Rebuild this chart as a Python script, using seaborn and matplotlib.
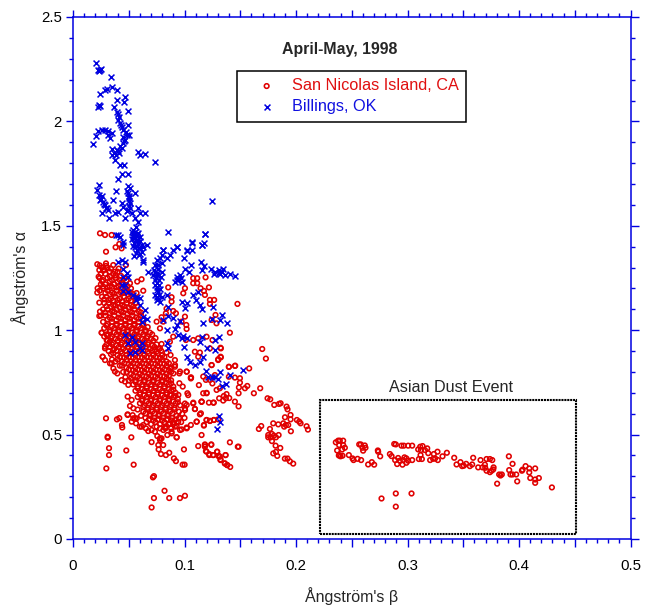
import matplotlib
matplotlib.use('Agg')
import matplotlib.pyplot as plt
from matplotlib.patches import Rectangle
from matplotlib.ticker import MultipleLocator
import pandas as pd
import seaborn as sns

# (beta, alpha) pairs
san_nicolas_core = [
    (.024,1.31),(.026,1.30),(.028,1.29),(.031,1.30),(.025,1.27),(.029,1.27),(.033,1.28),(.036,1.27),(.040,1.28),(.043,1.26),
    (.024,1.25),(.027,1.24),(.031,1.25),(.035,1.24),(.038,1.25),(.042,1.24),(.046,1.25),(.025,1.22),(.029,1.22),(.033,1.21),
    (.037,1.22),(.041,1.21),(.045,1.22),(.049,1.21),(.024,1.19),(.027,1.20),(.031,1.19),(.035,1.18),(.039,1.19),(.043,1.18),
    (.047,1.19),(.051,1.18),(.026,1.16),(.030,1.16),(.034,1.15),(.038,1.16),(.042,1.15),(.046,1.16),(.050,1.15),(.054,1.16),
    (.028,1.13),(.032,1.13),(.036,1.12),(.040,1.13),(.044,1.12),(.048,1.13),(.052,1.12),(.056,1.13),(.027,1.10),(.031,1.10),
    (.035,1.09),(.039,1.10),(.043,1.09),(.047,1.10),(.051,1.09),(.055,1.10),(.059,1.09),(.025,1.07),(.029,1.07),(.033,1.06),
    (.037,1.07),(.041,1.06),(.045,1.07),(.049,1.06),(.053,1.07),(.057,1.06),(.061,1.07),(.027,1.04),(.031,1.03),(.035,1.04),
    (.039,1.03),(.043,1.04),(.047,1.03),(.051,1.04),(.055,1.03),(.059,1.04),(.063,1.03),(.028,1.01),(.033,1.00),(.037,1.01),
    (.041,1.00),(.045,1.01),(.049,1.00),(.053,1.01),(.057,1.00),(.061,1.01),(.065,1.00),(.030,.98),(.035,.97),(.039,.98),
    (.043,.97),(.047,.98),(.051,.97),(.055,.98),(.059,.97),(.063,.98),(.067,.97),(.071,.98),(.031,.95),(.036,.94),
    (.040,.95),(.044,.94),(.048,.95),(.052,.94),(.056,.95),(.060,.94),(.064,.95),(.068,.94),(.072,.95),(.033,.92),
    (.037,.91),(.041,.92),(.045,.91),(.049,.92),(.053,.91),(.057,.92),(.061,.91),(.065,.92),(.069,.91),(.073,.92),
    (.077,.91),(.036,.89),(.040,.88),(.044,.89),(.048,.88),(.052,.89),(.056,.88),(.060,.89),(.064,.88),(.068,.89),
    (.072,.88),(.076,.89),(.080,.88),(.040,.86),(.044,.85),(.048,.86),(.052,.85),(.056,.86),(.060,.85),(.064,.86),
    (.068,.85),(.072,.86),(.076,.85),(.080,.86),(.084,.85),(.044,.83),(.048,.82),(.052,.83),(.056,.82),(.060,.83),
    (.064,.82),(.068,.83),(.072,.82),(.076,.83),(.080,.82),(.084,.83),(.088,.82),(.048,.80),(.052,.79),(.056,.80),
    (.060,.79),(.064,.80),(.068,.79),(.072,.80),(.076,.79),(.080,.80),(.084,.79),(.088,.80),(.052,.77),(.056,.76),
    (.060,.77),(.064,.76),(.068,.77),(.072,.76),(.076,.77),(.080,.76),(.084,.77),(.088,.76),(.054,.74),(.058,.73),
    (.062,.74),(.066,.73),(.070,.74),(.074,.73),(.078,.74),(.082,.73),(.086,.74),(.090,.73),(.056,.71),(.060,.70),
    (.064,.71),(.068,.70),(.072,.71),(.076,.70),(.080,.71),(.084,.70),(.088,.71),(.092,.70),(.058,.68),(.062,.67),
    (.066,.68),(.070,.67),(.074,.68),(.078,.67),(.082,.68),(.086,.67),(.090,.68),(.094,.67),(.060,.65),(.064,.64),
    (.068,.65),(.072,.64),(.076,.65),(.080,.64),(.084,.65),(.088,.64),(.092,.65),(.096,.64),(.058,.62),(.063,.61),
    (.067,.62),(.071,.61),(.075,.62),(.079,.61),(.083,.62),(.087,.61),(.091,.62),(.095,.61),(.061,.59),(.065,.58),
    (.069,.59),(.073,.58),(.077,.59),(.081,.58),(.085,.59),(.089,.58),(.093,.59),(.066,.56),(.070,.55),(.074,.56),
    (.078,.55),(.082,.56),(.086,.55),(.090,.56),
]
san_nicolas_fill = [
    (.027,1.285),(.034,1.295),(.038,1.262),(.041,1.295),(.026,1.235),(.033,1.235),(.040,1.232),(.044,1.228),(.048,1.238),(.027,1.21),
    (.031,1.205),(.035,1.208),(.039,1.205),(.043,1.202),(.047,1.205),(.052,1.20),(.029,1.178),(.033,1.172),(.037,1.175),(.041,1.172),
    (.045,1.178),(.049,1.172),(.053,1.175),(.057,1.178),(.028,1.148),(.032,1.145),(.036,1.142),(.040,1.145),(.044,1.138),(.048,1.145),
    (.052,1.142),(.056,1.148),(.030,1.115),(.034,1.112),(.038,1.118),(.042,1.108),(.046,1.115),(.050,1.108),(.054,1.115),(.058,1.112),
    (.029,1.085),(.033,1.082),(.037,1.088),(.041,1.078),(.045,1.085),(.049,1.078),(.053,1.085),(.057,1.082),(.061,1.085),(.031,1.052),
    (.035,1.055),(.039,1.048),(.043,1.055),(.047,1.048),(.051,1.055),(.055,1.048),(.059,1.055),(.063,1.052),(.030,1.022),(.035,1.018),
    (.039,1.022),(.043,1.018),(.047,1.022),(.051,1.018),(.055,1.022),(.059,1.018),(.063,1.022),(.067,1.015),(.033,.992),(.037,.988),
    (.041,.992),(.045,.988),(.049,.992),(.053,.988),(.057,.992),(.061,.988),(.065,.992),(.069,.988),(.034,.962),(.038,.958),
    (.042,.962),(.046,.958),(.050,.962),(.054,.958),(.058,.962),(.062,.958),(.066,.962),(.070,.958),(.074,.962),(.035,.932),
    (.039,.928),(.043,.932),(.047,.928),(.051,.932),(.055,.928),(.059,.932),(.063,.928),(.067,.932),(.071,.928),(.075,.932),
    (.039,.902),(.043,.898),(.047,.902),(.051,.898),(.055,.902),(.059,.898),(.063,.902),(.067,.898),(.071,.902),(.075,.898),
    (.079,.902),(.042,.872),(.046,.868),(.050,.872),(.054,.868),(.058,.872),(.062,.868),(.066,.872),(.070,.868),(.074,.872),
    (.078,.868),(.082,.872),(.046,.842),(.050,.838),(.054,.842),(.058,.838),(.062,.842),(.066,.838),(.070,.842),(.074,.838),
    (.078,.842),(.082,.838),(.086,.842),(.050,.812),(.054,.808),(.058,.812),(.062,.808),(.066,.812),(.070,.808),(.074,.812),
    (.078,.808),(.082,.812),(.086,.808),(.054,.782),(.058,.778),(.062,.782),(.066,.778),(.070,.782),(.074,.778),(.078,.782),
    (.082,.778),(.086,.782),(.056,.752),(.060,.748),(.064,.752),(.068,.748),(.072,.752),(.076,.748),(.080,.752),(.084,.748),
    (.088,.745),(.058,.722),(.062,.718),(.066,.722),(.070,.718),(.074,.722),(.078,.718),(.082,.722),(.086,.718),(.090,.715),
    (.060,.692),(.064,.688),(.068,.692),(.072,.688),(.076,.692),(.080,.688),(.084,.692),(.088,.688),(.092,.685),(.062,.662),
    (.066,.658),(.070,.662),(.074,.658),(.078,.662),(.082,.658),(.086,.662),(.090,.658),(.094,.655),(.063,.632),(.067,.628),
    (.071,.632),(.075,.628),(.079,.632),(.083,.628),(.087,.632),(.091,.628),(.065,.602),(.069,.598),(.073,.602),(.077,.598),
    (.081,.602),(.085,.598),(.089,.602),(.068,.572),(.072,.568),(.076,.572),(.080,.568),(.084,.572),(.088,.568),(.092,.572),
]
san_nicolas_edge = [
    (.0257,.988),(.0302,.953),(.0287,.913),(.0266,.873),(.0287,.857),(.0347,.841),(.0362,.817),(.0398,.793),(.0436,.761),(.0466,.754),
    (.0496,.738),(.049,.682),(.0526,.666),(.0511,.637),(.0541,.626),(.049,.594),(.0541,.578),(.0571,.578),(.0616,.538),(.078,.482),
    (.0765,.450),(.0846,.498),(.093,.487),(.081,.522),(.0885,.506),(.096,.522),(.102,.530),(.111,.562),(.1005,.618),(.102,.642),
    (.1094,.623),(.1079,.653),(.1154,.658),(.1026,.698),(.0954,.746),(.0984,.730),(.0945,.690),(.087,.690),(.0855,.762),(.09,.793),
    (.0954,.793),(.102,.801),(.1059,.773),(.0915,.833),(.087,.817),(.078,.865),(.0735,.905),(.028,.97),(.030,.93),(.032,.90),
    (.034,.885),(.035,.86),(.038,.85),(.036,.905),(.042,.83),(.045,.80),(.047,.775),(.050,.76),(.031,.975),(.033,.945),
    (.09,.55),(.095,.58),(.098,.60),(.10,.58),(.097,.56),(.093,.54),(.088,.53),(.083,.53),(.078,.53),
]
san_nicolas_sparse = [
    (.1407,.988),(.1697,.910),(.173,.864),(.158,.817),(.1398,.824),(.1455,.830),(.1497,.770),(.1563,.733),(.1542,.722),(.1622,.698),
    (.1679,.722),(.1488,.726),(.1485,.698),(.1497,.749),(.1452,.773),(.1398,.777),(.1745,.674),(.1769,.669),(.1805,.642),(.1847,.647),
    (.1862,.650),(.1915,.634),(.1924,.621),(.1951,.594),(.1901,.583),(.1951,.573),(.2008,.570),(.2029,.562),(.2041,.554),(.2095,.540),
    (.2107,.524),(.1954,.516),(.1796,.554),(.1841,.549),(.1886,.554),(.1909,.546),(.1930,.546),(.1894,.538),(.1688,.541),(.1667,.527),
    (.1766,.527),(.1784,.503),(.1751,.498),(.1802,.495),(.1844,.498),(.1751,.487),(.1772,.487),(.182,.487),(.1784,.469),(.1817,.447),
    (.1859,.436),(.1796,.410),(.182,.417),(.1832,.398),(.1900,.385),(.1924,.385),(.1945,.372),(.1975,.361),(.1407,.463),(.1485,.442),
    (.124,.453),(.1183,.453),(.1183,.442),(.1198,.418),(.1222,.402),(.1258,.402),(.1293,.418),(.1302,.398),(.1317,.394),(.1323,.378),
    (.1368,.402),(.1362,.362),(.1383,.354),(.141,.345),(.1153,.498),(.1174,.543),(.1198,.570),(.1228,.565),(.1264,.570),(.1302,.573),
    (.1147,.602),(.1153,.658),(.1219,.653),(.1258,.653),(.1347,.663),(.1452,.658),(.1485,.635),(.1371,.674),(.1401,.675),(.1311,.674),
    (.1288,.714),(.1317,.722),(.1377,.694),(.1353,.685),(.1198,.698),(.1168,.698),(.1192,.762),(.1228,.762),(.125,.745),(.1273,.785),
    (.1243,.833),(.1326,.913),(.1326,.870),(.1302,.861),(.0242,1.464),(.0287,1.456),(.0346,1.456),(.0382,1.397),(.0415,1.413),(.0436,1.392),
    (.0296,1.376),(.0218,1.316),(.0296,1.320),(.0296,1.308),(.0361,1.312),(.0236,1.288),(.023,1.256),(.0332,1.256),(.0376,1.280),(.0475,1.312),
    (.0221,1.201),(.0218,1.180),(.0236,1.132),(.0242,1.089),(.0236,1.068),(.0257,.988),(.0287,.921),(.0266,.873),(.0332,.841),(.0376,.802),
    (.0615,1.244),(.0576,1.233),(.0511,1.225),(.063,1.189),(.0854,1.205),(.1004,1.201),(.1219,1.205),(.0884,1.158),(.0884,1.137),(.1078,1.249),
    (.1114,1.249),(.1189,1.253),(.1078,1.225),(.1114,1.225),(.1144,1.201),(.1174,1.188),(.1183,1.169),(.1228,1.145),(.1266,1.145),(.1228,1.126),
    (.1475,1.126),(.0989,1.177),(.0899,1.092),(.0923,1.081),(.0839,1.103),(.0833,1.081),(.0794,1.062),(.075,1.041),(.0809,1.041),(.1004,1.065),
    (.1016,1.025),(.1019,1.006),(.078,1.009),(.0974,1.041),(.1278,1.073),(.1243,1.049),(.1287,1.033),(.1078,.953),(.1123,.961),(.1198,.969),
    (.1251,.953),(.1323,.916),(.1228,.913),(.1093,.897),(.1138,.893),(.1123,.873),(.1323,.873),(.1302,.857),(.0899,.969),(.1013,.953),
    (.0869,.945),(.0794,.934),(.078,.913),(.0839,.893),(.0875,.881),(.0914,.857),(.0914,.825),(.0959,.802),(.1019,.802),(.1057,.774),
    (.1168,.778),(.1243,.833),(.1398,.825),(.1452,.829),(.0296,.578),(.0394,.573),(.0415,.579),(.0439,.546),(.0442,.534),(.0311,.490),
    (.0311,.485),(.0323,.435),(.0323,.402),(.0299,.338),(.0523,.487),(.0478,.424),(.0544,.356),(.0705,.464),(.0717,.295),(.0726,.301),
    (.0821,.231),(.0726,.196),(.0863,.196),(.0959,.196),(.1004,.207),(.0705,.151),(.0995,.429),(.0905,.386),(.0923,.373),(.0983,.356),
    (.1001,.356),(.0789,.407),(.0833,.402),(.0863,.413),(.0768,.429),(.0809,.450),(.0780,.474),(.0756,.493),(.0735,.514),(.0794,.482),
    (.0929,.487),(.0884,.514),(.0914,.538),(.0974,.525),(.1019,.534),(.1057,.546),(.1108,.562),(.1174,.546),(.1198,.570),(.1228,.566),
    (.1263,.570),(.1123,.445),(.1183,.450),(.1240,.451),(.1192,.421),(.1222,.407),(.1257,.402),(.1293,.418),(.1311,.397),(.1368,.402),
    (.1323,.381),(.1362,.362),(.1383,.354),(.1478,.442),(.049,.597),(.0535,.593),(.0556,.578),(.0526,.562),(.0565,.554),(.06,.538),
    (.063,.546),(.0654,.530),(.0675,.517),(.0705,.522),(.075,.538),(.0824,.534),(.0869,.554),(.0944,.562),(.1138,.597),(.1093,.622),
    (.1153,.657),(.1263,.653),(.1198,.700),(.1129,.737),(.1078,.649),(.1033,.689),(.1057,.769),(.1004,.649),(.1004,.625),
]
asian_dust = [
    (.2357,.463),(.2378,.471),(.2393,.471),(.2423,.471),(.2387,.450),(.2423,.450),(.2438,.437),(.2369,.424),(.2414,.429),(.2384,.400),
    (.2399,.396),(.2417,.399),(.2388,.402),(.2474,.402),(.2507,.386),(.2516,.378),(.2552,.384),(.2584,.378),(.2647,.357),(.268,.368),
    (.2701,.356),(.2567,.453),(.2581,.453),(.2617,.448),(.2596,.437),(.2623,.437),(.2602,.423),(.2734,.424),(.2737,.418),(.2755,.396),
    (.2842,.407),(.2857,.397),(.2881,.455),(.2895,.453),(.2946,.447),(.2967,.447),(.3006,.447),(.3042,.447),(.2889,.378),(.2907,.359),
    (.2916,.388),(.2931,.375),(.2955,.356),(.2961,.378),(.2973,.391),(.299,.386),(.3006,.375),(.299,.365),(.3042,.378),(.3102,.383),
    (.3129,.383),(.3117,.402),(.3096,.429),(.3114,.442),(.3135,.445),(.3120,.426),(.3156,.426),(.3177,.434),(.3186,.411),(.3203,.378),
    (.3236,.407),(.323,.384),(.3248,.386),(.3272,.378),(.3269,.418),(.3314,.396),(.3353,.413),(.3419,.389),(.344,.357),(.3475,.368),
    (.349,.349),(.3505,.351),(.3526,.360),(.3559,.349),(.358,.357),(.3589,.389),(.3634,.343),(.3655,.378),(.3673,.343),(.3694,.356),
    (.3697,.341),(.3709,.383),(.3709,.327),(.3739,.383),(.376,.378),(.3739,.320),(.3754,.327),(.3769,.333),(.3772,.343),(.3804,.265),
    (.3822,.309),(.3834,.304),(.3846,.309),(.3909,.396),(.3912,.330),(.3924,.309),(.3942,.360),(.3942,.309),(.3975,.309),(.3984,.276),
    (.4026,.327),(.4032,.332),(.4059,.349),(.4092,.338),(.4092,.319),(.4101,.292),(.4145,.338),(.4145,.285),(.4145,.269),(.4178,.292),
    (.4295,.247),(.2767,.194),(.2895,.218),(.3036,.218),(.2895,.155),
]
billings = [
    (.021,2.281),(.022,2.246),(.024,2.246),(.025,2.25),(.023,2.24),(.0338,2.213),(.0242,2.131),(.0287,2.151),(.0308,2.155),(.0347,2.167),
    (.0392,2.151),(.0398,2.103),(.0466,2.119),(.0457,2.093),(.0233,2.079),(.0242,2.074),(.0227,2.071),(.0371,2.068),(.0392,2.047),(.0407,2.036),
    (.0496,2.052),(.0407,2.007),(.0422,1.991),(.0437,1.972),(.0496,1.983),(.0227,1.956),(.0257,1.959),(.0287,1.959),(.0317,1.956),(.0347,1.943),
    (.0332,1.919),(.0317,1.935),(.0206,1.930),(.0176,1.892),(.0451,1.927),(.0481,1.935),(.0505,1.935),(.0466,1.911),(.0445,1.895),(.0437,1.871),
    (.0392,1.863),(.0347,1.866),(.0368,1.847),(.0416,1.850),(.0347,1.839),(.0377,1.815),(.0586,1.855),(.0601,1.839),(.0646,1.842),(.0736,1.807),
    (.0422,1.790),(.046,1.790),(.0443,1.748),(.0496,1.747),(.0407,1.726),(.0233,1.696),(.0218,1.672),(.0236,1.648),(.0263,1.643),(.0242,1.624),
    (.0278,1.605),(.0302,1.584),(.0257,1.560),(.0326,1.536),(.0287,1.600),(.0317,1.576),(.0362,1.624),(.0383,1.668),(.049,1.691),(.0511,1.680),
    (.0496,1.656),(.0556,1.659),(.0502,1.632),(.0437,1.608),(.0511,1.608),(.0451,1.592),(.0407,1.568),(.0377,1.560),(.0496,1.576),(.0526,1.560),
    (.0466,1.536),(.0586,1.584),(.0601,1.560),(.0646,1.563),(.0556,1.536),(.0586,1.520),(.0565,1.496),(.125,1.619),(.0849,1.470),(.1181,1.459),
    (.0407,1.456),(.0385,1.456),(.0421,1.445),(.0451,1.424),(.0451,1.408),(.0526,1.472),(.0556,1.472),(.0585,1.464),(.0541,1.456),(.0570,1.451),
    (.06,1.448),(.0526,1.435),(.0565,1.432),(.06,1.429),(.0547,1.416),(.0585,1.413),(.0615,1.408),(.066,1.408),(.0556,1.397),(.06,1.392),
    (.063,1.400),(.0576,1.384),(.0615,1.376),(.0547,1.355),(.0591,1.360),(.063,1.336),(.063,1.328),(.0406,1.328),(.0436,1.336),(.0466,1.328),
    (.0451,1.292),(.0481,1.272),(.0451,1.256),(.0496,1.256),(.0436,1.217),(.0466,1.217),(.0451,1.187),(.0496,1.185),(.0541,1.169),(.0576,1.161),
    (.06,1.153),(.0565,1.145),(.06,1.121),(.0645,1.097),(.063,1.062),(.0666,1.052),(.0615,1.041),(.0794,1.360),(.0809,1.384),(.075,1.336),
    (.078,1.344),(.0735,1.312),(.0765,1.312),(.0794,1.320),(.0845,1.344),(.0869,1.360),(.0899,1.384),(.0929,1.397),(.0675,1.280),(.0729,1.288),
    (.0765,1.292),(.0794,1.280),(.072,1.264),(.0756,1.264),(.0789,1.256),(.0735,1.241),(.0771,1.241),(.0735,1.217),(.0771,1.217),(.075,1.193),
    (.078,1.196),(.0735,1.169),(.0771,1.169),(.0794,1.161),(.075,1.145),(.078,1.137),(.0845,1.169),(.0854,1.110),(.0995,1.344),(.1019,1.379),
    (.1063,1.416),(.1063,1.384),(.1054,1.312),(.1004,1.292),(.1042,1.280),(.1153,1.408),(.1183,1.461),(.1174,1.419),(.115,1.328),(.1174,1.308),
    (.1153,1.288),(.0929,1.256),(.0959,1.264),(.0944,1.241),(.0974,1.233),(.0914,1.233),(.1237,1.292),(.1272,1.280),(.1311,1.288),(.1347,1.292),
    (.1317,1.269),(.1362,1.264),(.1407,1.269),(.1452,1.261),(.1078,1.169),(.1123,1.185),(.1102,1.145),(.1019,1.129),(.0974,1.137),(.1004,1.105),
    (.1138,1.121),(.1153,1.100),(.1257,1.110),(.1162,1.036),(.1243,1.052),(.1332,1.073),(.1317,1.049),(.1377,1.036),(.1311,.969),(.1272,.953),
    (.0854,1.068),(.0809,1.051),(.0899,1.057),(.0929,1.025),(.0959,1.046),(.0914,1.004),(.0839,1.000),(.0944,.977),(.0989,.972),(.1019,.961),
    (.0974,.961),(.0995,.918),(.1153,.969),(.1138,.943),(.1198,.913),(.1272,.905),(.0839,.937),(.0854,.913),(.1019,.873),(.1048,.849),
    (.1093,.833),(.1138,.849),(.1168,.873),(.1251,.778),(.1317,.802),(.1407,.786),(.1213,.778),(.0466,.977),(.0496,.937),(.0526,.969),
    (.0556,.945),(.0615,.937),(.06,.913),(.0511,.889),(.0556,.897),(.0615,.905),(.1311,.590),(.1317,.558),(.1293,.528),(.1272,.777),
    (.1302,.764),(.1332,.732),(.1371,.742),(.1189,.806),(.1521,.809),(.1065,1.424),(.093,1.397),(.102,1.384),(.081,1.384),(.1154,1.408),
    (.0542,1.478),(.0572,1.462),(.0535,1.445),(.0555,1.44),(.0578,1.425),(.0536,1.405),(.0568,1.405),(.0592,1.395),(.0565,1.368),(.0605,1.365),
    (.0735,1.278),(.0752,1.275),(.0748,1.252),(.0755,1.228),(.0752,1.205),(.0762,1.182),(.0752,1.158),(.0765,1.15),(.0412,2.02),(.0432,1.985),
    (.0445,1.96),(.0475,1.95),(.0455,1.905),(.0425,1.88),(.0405,1.858),(.0385,1.84),(.0498,1.62),(.0505,1.595),(.0488,1.57),(.0515,1.585),
    (.0255,1.63),(.0272,1.615),(.0295,1.585),(.0485,1.668),(.0505,1.645),(.1262,1.268),(.1305,1.275),(.1335,1.28),(.0965,1.25),(.0935,1.24),
]
dust_box_beta = [0.2215, 0.451]
dust_box_alpha = [0.025, 0.666]
x_ticks = [0, 0.05, 0.1, 0.15, 0.2, 0.25, 0.3, 0.35, 0.4, 0.45, 0.5]
x_tick_labels = ['0', '', '0.1', '', '0.2', '', '0.3', '', '0.4', '', '0.5']
y_ticks = [0, 0.5, 1, 1.5, 2, 2.5]
y_tick_labels = ['0', '0.5', '1', '1.5', '2', '2.5']

RED = '#e00000'
BLUE = '#0000e0'

red_df = pd.DataFrame(san_nicolas_core + san_nicolas_fill + san_nicolas_edge + san_nicolas_sparse + asian_dust,
                      columns=['beta', 'alpha'])
blue_df = pd.DataFrame(billings, columns=['beta', 'alpha'])

sns.set_style('ticks')
plt.rcParams['font.family'] = ['Liberation Sans', 'DejaVu Sans']

fig = plt.figure(figsize=(6.45, 6.07), dpi=100)
ax = fig.add_axes([73 / 645, 1 - 539 / 607, 557.5 / 645, 522 / 607])

sns.scatterplot(data=red_df, x='beta', y='alpha', marker='o', s=11, facecolor='none',
                edgecolor=RED, linewidth=1.15, label='San Nicolas Island, CA', ax=ax)
sns.scatterplot(data=blue_df, x='beta', y='alpha', marker='x', s=18, color=BLUE,
                linewidth=1.1, label='Billings, OK', ax=ax)

ax.set_xlim(0, 0.5)
ax.set_ylim(0, 2.5)
ax.set_xticks(x_ticks, labels=x_tick_labels)
ax.set_yticks(y_ticks, labels=y_tick_labels)
ax.xaxis.set_minor_locator(MultipleLocator(0.01))
ax.yaxis.set_minor_locator(MultipleLocator(0.1))
ax.tick_params(which='major', length=5.4, width=1, color=BLUE, labelsize=10.8, labelcolor='black',
               top=True, right=True, pad=9)
ax.tick_params(which='minor', length=2.9, width=1, color=BLUE, top=True, right=True)
ax.tick_params(axis='y', which='major', pad=2.5)
for side in ax.spines.values():
    side.set_color(BLUE)
    side.set_linewidth(1.1)

ax.set_xlabel("Ångström's β", fontsize=11.5, labelpad=10)
ax.set_ylabel("Ångström's α", fontsize=11.5, labelpad=9)

ax.add_patch(Rectangle((dust_box_beta[0], dust_box_alpha[0]), dust_box_beta[1] - dust_box_beta[0],
                       dust_box_alpha[1] - dust_box_alpha[0], fill=False, edgecolor='black',
                       linewidth=1.5, linestyle=(0, (1, 0.4))))
ax.text(0.3387, 0.69, 'Asian Dust Event', ha='center', va='bottom', fontsize=11.6)
ax.text(0.239, 2.342, 'April-May, 1998', ha='center', va='center', fontsize=11.4, fontweight='bold')

leg = ax.legend(loc='upper left', bbox_to_anchor=(164 / 557.5, 1 - 54 / 522), frameon=True, fancybox=False,
                framealpha=1, edgecolor='black', fontsize=11.7, borderaxespad=0, borderpad=0.45,
                labelspacing=0.37, handletextpad=0.2, handlelength=2.75)
leg.get_frame().set_linewidth(1.1)
for txt, col in zip(leg.get_texts(), ['#e01010', '#1010e0']):
    txt.set_color(col)

fig.savefig('out.png', dpi=100)
